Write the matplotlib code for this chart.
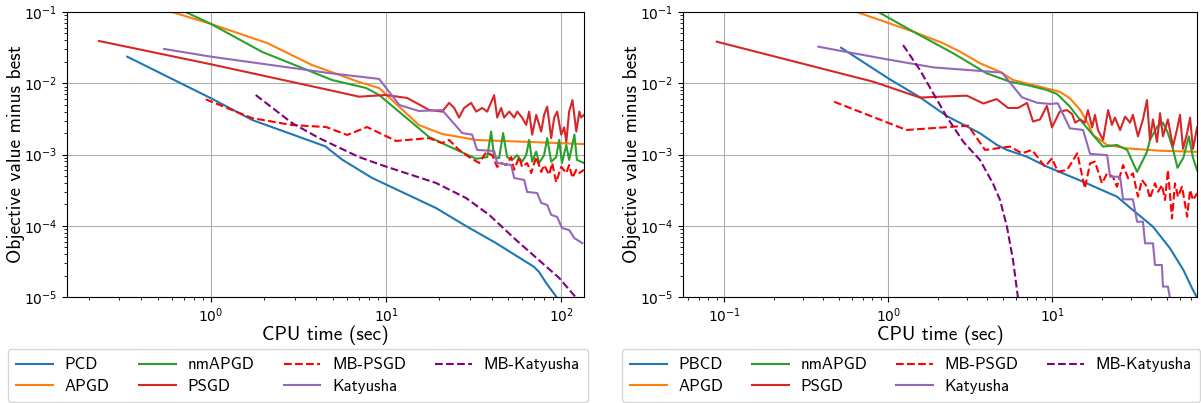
"""Objective gap vs CPU time for two problem sizes"""

import matplotlib
matplotlib.use("Agg")
import matplotlib.pyplot as plt

plt.rcParams["mathtext.fontset"] = "cm"

LABEL_FONT = "cmss10"

# ---------------- left panel ----------------
l_pcd_t = [0.332, 1.0, 1.72, 4.5, 5.6, 8.3, 9.75, 19.3, 28.6, 42.5, 70.1, 74.8, 82.1, 94.9]
l_pcd_v = [0.0236, 0.00615, 0.00305, 0.0013, 0.00085, 0.00047, 0.00039, 0.000177,
           9.9e-5, 5.7e-5, 2.64e-5, 2.24e-5, 1.57e-5, 9.7e-6]

l_apgd_t = [0.5, 0.598, 1.0, 2.09, 3.78, 7.01, 9.12, 11.9, 15.4, 20.9, 32.7, 65.6, 135]
l_apgd_v = [0.125, 0.1, 0.0679, 0.0367, 0.018, 0.0104, 0.00858, 0.00465, 0.00259,
            0.00194, 0.0016, 0.0015, 0.0014]

l_nmapgd_t = [0.6, 0.716, 1.0, 1.96, 3.78, 4.91, 7.69, 9.12, 13.5, 17.6, 22.0, 32.7,
              37.8, 39.8, 41.4, 44.2, 46.6, 49.1, 52.5, 56.1, 59.8, 63.1, 65.6, 68.3,
              72, 74.8, 79.9, 83.2, 87.7, 93.6, 97.4, 101, 107, 111, 119, 123, 130, 135]
l_nmapgd_v = [0.123, 0.1, 0.0679, 0.0275, 0.0144, 0.0111, 0.00858, 0.00684, 0.00305,
              0.00176, 0.00136, 0.00087, 0.00092, 0.0021, 0.00092, 0.00089, 0.0020,
              0.00092, 0.00084, 0.00098, 0.00079, 0.00098, 0.0016, 0.00079, 0.0011,
              0.00076, 0.00098, 0.0017, 0.00079, 0.00092, 0.0016, 0.00076, 0.00136,
              0.00084, 0.0019, 0.00084, 0.00079, 0.00076]

l_psgd_t = [0.229, 1.0, 4.72, 7.01, 9.96, 13.2, 17.6, 20.9, 22.9, 24.5, 26.1, 27.9,
            30.6, 32.7, 35.4, 37.8, 41.4, 43.1, 45.4, 47.2, 50.5, 53.9, 56.1, 59.8,
            63.1, 65.6, 68.3, 72, 76.9, 79.9, 83.2, 87.7, 91.2, 94.9, 100, 104, 107,
            111, 116, 122, 127, 130, 135]
l_psgd_v = [0.0392, 0.01845, 0.00804, 0.00648, 0.00684, 0.00621, 0.00422, 0.0040,
            0.0053, 0.0045, 0.0033, 0.0045, 0.0053, 0.0040, 0.0045, 0.0040, 0.0068,
            0.0033, 0.0045, 0.0033, 0.0040, 0.0033, 0.0040, 0.0033, 0.0026, 0.0040,
            0.0019, 0.0036, 0.0021, 0.0036, 0.0047, 0.0017, 0.0033, 0.0040, 0.0019,
            0.0024, 0.0015, 0.0040, 0.0058, 0.0021, 0.0040, 0.0033, 0.0036]

l_mbpsgd_t = [0.933, 1.71, 2.9, 4.54, 5.99, 7.79, 11.4, 17.6, 20.9, 22.9, 26.1, 29.8,
              34, 37.3, 40.3, 43.1, 45.4, 48.5, 51.8, 53.9, 57.5, 59.8, 63.9, 67.4,
              72, 76.9, 79.9, 85.4, 88.8, 93.6, 100, 107, 111, 116, 122, 127, 135]
l_mbpsgd_v = [0.00595, 0.00325, 0.00259, 0.00243, 0.00188, 0.00243, 0.00155, 0.0017,
              0.00145, 0.0016, 0.00116, 0.00092, 0.00076, 0.00108, 0.00098, 0.00067,
              0.00076, 0.00071, 0.00092, 0.00061, 0.00092, 0.00067, 0.00076, 0.00055,
              0.00092, 0.00057, 0.00071, 0.00052, 0.00076, 0.00041, 0.00067, 0.00055,
              0.00071, 0.00047, 0.00061, 0.00055, 0.00061]

l_katyusha_t = [0.539, 1.0, 4.72, 9.12, 11.9, 15.4, 20.9, 27.2, 31.0, 33.1, 41.4, 43.1,
                51.8, 53.9, 61.5, 63.9, 72.9, 76.9, 83.2, 87.7, 94.9, 101, 111, 119, 132]
l_katyusha_v = [0.0303, 0.0236, 0.0139, 0.0115, 0.00495, 0.00408, 0.0042, 0.0020,
                0.0019, 0.00116, 0.00112, 0.00076, 0.000712, 0.000468, 0.000439,
                0.000298, 0.000288, 0.000209, 0.000196, 0.000142, 0.000133, 9.3e-5,
                8.7e-5, 6.7e-5, 5.7e-5]

l_mbkat_t = [1.8, 2.9, 4.14, 7.01, 9.75, 19.3, 28.6, 38.8, 55.3, 77.9, 97.4, 122]
l_mbkat_v = [0.00684, 0.00277, 0.0017, 0.00092, 0.00069, 0.000398, 0.000245, 0.000142,
             6.3e-5, 3.0e-5, 1.85e-5, 9.7e-6]

# ---------------- right panel ----------------
r_pbcd_t = [0.515, 1.0, 1.56, 2.27, 3.62, 4.6, 5.29, 7.01, 9.27, 15.4, 24.8, 31, 41.1,
            52.2, 63, 72.1, 76.4]
r_pbcd_v = [0.0315, 0.0117, 0.00635, 0.00347, 0.00199, 0.00136, 0.00116, 0.00093,
            0.000675, 0.000415, 0.000256, 0.000166, 9.7e-5, 4.83e-5, 2.39e-5, 1.25e-5,
            9.7e-6]

r_apgd_t = [0.5, 0.641, 1.42, 2.16, 2.74, 3.62, 4.8, 5.76, 8.07, 11.1, 12.8, 14.8, 16.3,
            17.7, 21.6, 28.6, 45.4, 76.4]
r_apgd_v = [0.122, 0.1, 0.053, 0.0364, 0.0277, 0.0191, 0.0145, 0.0111, 0.00915, 0.0076,
            0.00615, 0.00422, 0.00289, 0.00188, 0.00136, 0.00122, 0.00113, 0.00109]

r_nmapgd_t = [0.75, 0.869, 1.42, 2.49, 3.98, 5.52, 7.01, 9.27, 10.7, 12.8, 14.8, 17.7,
              20.4, 24.8, 28.6, 32.9, 37.8, 39.4, 43.6, 47.3, 50.7, 54.4, 58.0, 63.0,
              68.0, 72.1, 76.4]
r_nmapgd_v = [0.121, 0.1, 0.053, 0.0263, 0.0138, 0.0105, 0.00945, 0.00804, 0.00706,
              0.00469, 0.00305, 0.00188, 0.00129, 0.00136, 0.00116, 0.00057, 0.00109,
              0.0016, 0.00245, 0.0028, 0.0020, 0.0012, 0.00065, 0.0009, 0.0018, 0.0009,
              0.0006]

r_psgd_t = [0.0899, 0.81, 1.56, 3.01, 3.8, 4.58, 5.37, 6.18, 7.01, 7.63, 8.41, 9.27,
            9.96, 11.1, 12.3, 13.2, 13.8, 14.8, 15.8, 16.5, 17.5, 18.2, 19.0, 20.4,
            21.9, 23.1, 24.1, 25.9, 27.8, 29.8, 31.0, 33.3, 35.7, 37.8, 39.4, 41.1,
            43.5, 45.4, 47.3, 50.7, 54.4, 57.5, 60.1, 62.7, 66.4, 69.2, 72.1, 76.4]
r_psgd_v = [0.0383, 0.0105, 0.0063, 0.0067, 0.0052, 0.0060, 0.0045, 0.0045, 0.0053,
            0.0029, 0.0031, 0.0048, 0.0024, 0.0040, 0.0042, 0.0037, 0.0028, 0.0031,
            0.0028, 0.0042, 0.0024, 0.0036, 0.0022, 0.0016, 0.0042, 0.0026, 0.0033,
            0.0022, 0.0034, 0.0028, 0.0036, 0.0018, 0.0031, 0.0058, 0.0016, 0.0031,
            0.0015, 0.0038, 0.0018, 0.0031, 0.0013, 0.0022, 0.0036, 0.0012, 0.0020,
            0.0033, 0.0012, 0.0024]

r_mbpsgd_t = [0.467, 1.29, 3.07, 3.89, 5.52, 6.53, 7.52, 9.02, 9.96, 10.8, 12.3, 14.2,
              15.8, 17.0, 18.2, 20.1, 21.6, 23.4, 24.8, 27.0, 29.0, 31.0, 33.3, 35.2,
              37.8, 39.4, 42.3, 44.2, 46.6, 48.7, 50.7, 53.7, 56.0, 58.4, 61.8, 64.4,
              66.4, 69.2, 72.1, 76.4]
r_mbpsgd_v = [0.0055, 0.00221, 0.00254, 0.00116, 0.00129, 0.00104, 0.00116, 0.000675,
              0.000885, 0.000574, 0.000606, 0.00104, 0.000336, 0.000753, 0.000793,
              0.000394, 0.000545, 0.000488, 0.000353, 0.00071, 0.000463, 0.000545,
              0.000256, 0.000439, 0.000353, 0.000243, 0.000394, 0.0003, 0.000373,
              0.00023, 0.000606, 0.000127, 0.000394, 0.000256, 0.000353, 0.000206,
              0.000134, 0.000318, 0.00023, 0.000285]

r_katyusha_t = [0.374, 0.507, 0.978, 1.88, 3.62, 4.93, 6.53, 8.07, 9.68, 10.8, 12.8,
                15.4, 17.0, 21.6, 22.5, 25.9, 27.0, 31.0, 32.9, 35.7, 36.8, 41.1, 42.3,
                46.6, 47.3, 50.7, 52.2]
r_katyusha_v = [0.0326, 0.0286, 0.0217, 0.0167, 0.0149, 0.0141, 0.00635, 0.00533,
                0.00512, 0.00523, 0.00233, 0.00221, 0.00102, 0.00098, 0.000488,
                0.000488, 0.000235, 0.000235, 0.000114, 0.000114, 5.67e-5, 5.67e-5,
                2.81e-5, 2.81e-5, 1.4e-5, 1.4e-5, 9.7e-6]

r_mbkat_t = [1.23, 1.56, 1.88, 2.27, 2.87, 3.62, 4.35, 4.8, 5.29, 5.76, 6.18]
r_mbkat_v = [0.0344, 0.0153, 0.00722, 0.00339, 0.0015, 0.00084, 0.00039, 0.00023,
             9.7e-5, 3.3e-5, 9.7e-6]

LEFT_NAMES = ["PCD", "APGD", "nmAPGD", "PSGD", "MB-PSGD", "Katyusha", "MB-Katyusha"]
RIGHT_NAMES = ["PBCD", "APGD", "nmAPGD", "PSGD", "MB-PSGD", "Katyusha", "MB-Katyusha"]

STYLES = [
    {"color": "C0", "linestyle": "-"},
    {"color": "C1", "linestyle": "-"},
    {"color": "C2", "linestyle": "-"},
    {"color": "C3", "linestyle": "-"},
    {"color": "red", "linestyle": "--"},
    {"color": "C4", "linestyle": "-"},
    {"color": "purple", "linestyle": "--"},
]

W, H = 1201, 403


def draw_panel(ax, series, names, xlim, legend_box):
    """Plots all curves of one panel on log-log axes with a legend below"""
    for (t, v), name, style in zip(series, names, STYLES):
        ax.plot(t, v, label=name, linewidth=1.5, **style)

    ax.set_xscale("log")
    ax.set_yscale("log")
    ax.set_xlim(xlim)
    ax.set_ylim(1e-5, 1e-1)
    ax.grid(which="major", linewidth=0.8)
    ax.tick_params(which="major", labelsize=10)

    ax.set_xlabel("CPU time (sec)", fontsize=14, family=LABEL_FONT, labelpad=0)
    ax.set_ylabel("Objective value minus best", fontsize=14, family=LABEL_FONT,
                  labelpad=-1)

    x0, y0, x1, y1 = legend_box
    ax.legend(
        loc="upper left",
        bbox_to_anchor=(x0 / W, 1 - y1 / H, (x1 - x0) / W, (y1 - y0) / H),
        bbox_transform=ax.figure.transFigure,
        mode="expand",
        ncol=4,
        borderaxespad=0,
        borderpad=0.5,
        prop={"family": LABEL_FONT, "size": 12},
        labelspacing=0.4,
        handlelength=2.2,
        handletextpad=0.7,
    )


fig = plt.figure(figsize=(W / 100, H / 100), dpi=100)

ax_left = fig.add_axes([67.3 / W, 1 - 297 / H, (584 - 67.3) / W, 285 / H])
ax_right = fig.add_axes([683.3 / W, 1 - 297 / H, (1197.3 - 683.3) / W, 285 / H])

left_series = [
    (l_pcd_t, l_pcd_v), (l_apgd_t, l_apgd_v), (l_nmapgd_t, l_nmapgd_v),
    (l_psgd_t, l_psgd_v), (l_mbpsgd_t, l_mbpsgd_v), (l_katyusha_t, l_katyusha_v),
    (l_mbkat_t, l_mbkat_v),
]
right_series = [
    (r_pbcd_t, r_pbcd_v), (r_apgd_t, r_apgd_v), (r_nmapgd_t, r_nmapgd_v),
    (r_psgd_t, r_psgd_v), (r_mbpsgd_t, r_mbpsgd_v), (r_katyusha_t, r_katyusha_v),
    (r_mbkat_t, r_mbkat_v),
]

draw_panel(ax_left, left_series, LEFT_NAMES, (0.151, 135), (8, 349, 588, 401))
draw_panel(ax_right, right_series, RIGHT_NAMES, (0.0562, 76.6), (622, 349, 1200, 401))

fig.savefig("out.png", dpi=100)
